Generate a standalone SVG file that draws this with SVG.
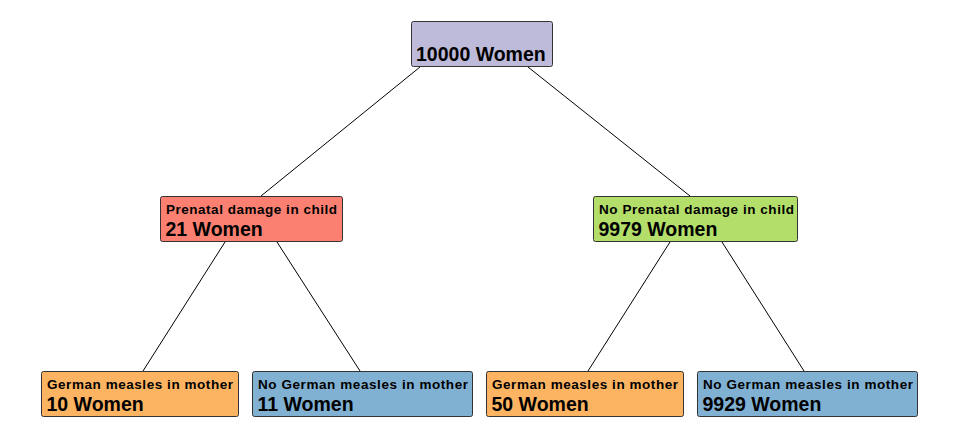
<svg xmlns="http://www.w3.org/2000/svg" width="957" height="439" viewBox="0 0 957 439">
<style>
.box{stroke:#333333;stroke-width:1}
.sm{font-family:"Liberation Sans",Arial,sans-serif;font-weight:bold;font-size:13.5px;fill:#000}
.lg{font-family:"Liberation Sans",Arial,sans-serif;font-weight:bold;font-size:19.5px;fill:#000}
.edge{stroke:#000;stroke-width:1;fill:none}
</style>
<rect width="957" height="439" fill="#ffffff"/>
<g id="connectors">
<line class="edge" x1="420" y1="67" x2="261" y2="196"/>
<line class="edge" x1="528" y1="67" x2="690" y2="196"/>
<line class="edge" x1="225" y1="242" x2="143" y2="371"/>
<line class="edge" x1="277" y1="242" x2="360" y2="371"/>
<line class="edge" x1="670" y1="242" x2="588" y2="371"/>
<line class="edge" x1="722" y1="242" x2="804" y2="371"/>
</g>
<g id="root">
<rect class="box" x="411.5" y="21.5" width="141" height="45" rx="2" fill="#BEBADA"/>
<text class="lg" x="416" y="60.5">10000 Women</text>
</g>
<g id="prenatal">
<rect class="box" x="160.5" y="196.5" width="182" height="45" rx="2" fill="#FB8072"/>
<text class="sm" x="166" y="213.5" textLength="171" lengthAdjust="spacing">Prenatal damage in child</text>
<text class="lg" x="165.5" y="235.5">21 Women</text>
</g>
<g id="noprenatal">
<rect class="box" x="593.5" y="196.5" width="204" height="45" rx="2" fill="#B3DE69"/>
<text class="sm" x="599" y="213.5" textLength="195" lengthAdjust="spacing">No Prenatal damage in child</text>
<text class="lg" x="598.5" y="235.5">9979 Women</text>
</g>
<g id="measles10">
<rect class="box" x="41.5" y="371.5" width="197" height="45" rx="2" fill="#FDB462"/>
<text class="sm" x="47" y="388.5" textLength="186" lengthAdjust="spacing">German measles in mother</text>
<text class="lg" x="46.5" y="410.5">10 Women</text>
</g>
<g id="nomeasles11">
<rect class="box" x="252.5" y="371.5" width="220" height="45" rx="2" fill="#80B1D3"/>
<text class="sm" x="258" y="388.5" textLength="210" lengthAdjust="spacing">No German measles in mother</text>
<text class="lg" x="257.5" y="410.5">11 Women</text>
</g>
<g id="measles50">
<rect class="box" x="486.5" y="371.5" width="197" height="45" rx="2" fill="#FDB462"/>
<text class="sm" x="492" y="388.5" textLength="186" lengthAdjust="spacing">German measles in mother</text>
<text class="lg" x="491.5" y="410.5">50 Women</text>
</g>
<g id="nomeasles9929">
<rect class="box" x="697.5" y="371.5" width="220" height="45" rx="2" fill="#80B1D3"/>
<text class="sm" x="703" y="388.5" textLength="210" lengthAdjust="spacing">No German measles in mother</text>
<text class="lg" x="702.5" y="410.5">9929 Women</text>
</g>
</svg>
